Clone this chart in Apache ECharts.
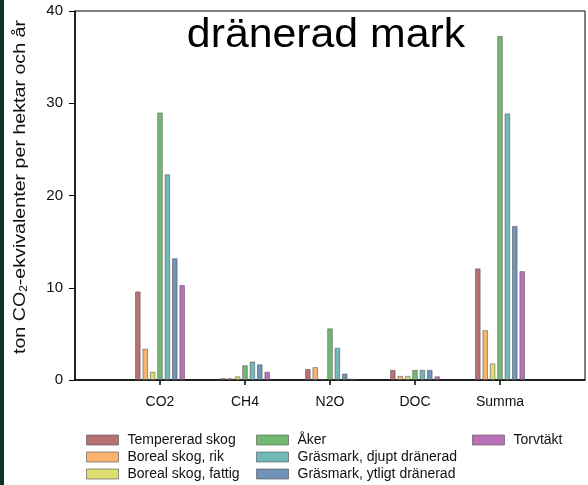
<!DOCTYPE html>
<html>
<head>
<meta charset="utf-8">
<script src="https://cdn.jsdelivr.net/npm/echarts@6/dist/echarts.min.js"></script>
<style>
  html, body { margin: 0; padding: 0; background: #ffffff; }
  #chart { width: 588px; height: 485px; }
</style>
</head>
<body>
<div id="chart"></div>
<script>
// Gas categories on the x axis
const categories = ['CO2', 'CH4', 'N2O', 'DOC', 'Summa'];

// Emissions per land-use class (ton CO2-ekv per hektar och år)
const tempereradSkog   = [9.6, 0.2, 1.2, 1.1, 12.1];
const borealRik        = [3.4, 0.2, 1.4, 0.45, 5.4];
const borealFattig     = [0.9, 0.4, 0.1, 0.45, 1.8];
const aker             = [29.0, 1.6, 5.6, 1.1, 37.3];
const grasmarkDjupt    = [22.3, 2.0, 3.5, 1.1, 28.9];
const grasmarkYtligt   = [13.2, 1.7, 0.7, 1.1, 16.7];
const torvtakt         = [10.3, 0.9, 0.15, 0.4, 11.8];

const yTicks = [0, 10, 20, 30, 40];

const seriesDefs = [
  { name: 'Tempererad skog', data: tempereradSkog, color: '#b87172' },
  { name: 'Boreal skog, rik', data: borealRik, color: '#fbb36f' },
  { name: 'Boreal skog, fattig', data: borealFattig, color: '#dcdc72' },
  { name: 'Åker', data: aker, color: '#71b971' },
  { name: 'Gräsmark, djupt dränerad', data: grasmarkDjupt, color: '#71b9b9' },
  { name: 'Gräsmark, ytligt dränerad', data: grasmarkYtligt, color: '#7193b9' },
  { name: 'Torvtäkt', data: torvtakt, color: '#b971b9' }
];

// Pad the category axis with an empty slot on each side
const axisCats = [''].concat(categories, ['']);
const pad = (arr) => ['-'].concat(arr, ['-']);

const FONT = '"Liberation Sans", Arial, sans-serif';

const chart = echarts.init(document.getElementById('chart'), null, { renderer: 'canvas' });

const legendBase = {
  orient: 'vertical',
  itemWidth: 32,
  itemHeight: 10,
  itemGap: 1,
  padding: 0,
  icon: 'rect',
  top: 432,
  height: 200,
  textStyle: { fontFamily: FONT, fontSize: 14, lineHeight: 16, color: '#111', padding: [0, 0, 0, 4] },
  itemStyle: { borderColor: 'rgba(80,80,80,0.6)', borderWidth: 1 }
};

chart.setOption({
  animation: false,
  backgroundColor: '#ffffff',
  textStyle: { fontFamily: FONT },
  grid: { left: 75, top: 11, right: 1, bottom: 105, show: true, borderColor: '#000', borderWidth: 1 },
  legend: [
    Object.assign({}, legendBase, { left: 86, data: seriesDefs.slice(0, 3).map(s => s.name) }),
    Object.assign({}, legendBase, { left: 256, data: seriesDefs.slice(3, 6).map(s => s.name) }),
    Object.assign({}, legendBase, { left: 472, data: seriesDefs.slice(6).map(s => s.name) })
  ],
  graphic: [
    { type: 'rect', left: 0, top: 0, shape: { width: 4, height: 485 }, style: { fill: '#0e3427' }, z: 10 },
    {
      type: 'text', x: 326, y: 36, scaleX: 1.07, z: 10,
      style: { text: 'dränerad mark', font: '40px "Liberation Sans", Arial, sans-serif', fill: '#000', align: 'center', verticalAlign: 'middle' }
    },
    {
      type: 'text', x: 20, y: 187, rotation: Math.PI / 2, scaleX: 1.19, z: 10,
      style: {
        text: 'ton CO{sub|2}-ekvivalenter per hektar och år',
        fontFamily: FONT, fontSize: 16.5, fill: '#111', align: 'center', verticalAlign: 'middle',
        rich: { sub: { fontFamily: FONT, fontSize: 10, fill: '#111', padding: [9, 0, 0, 0] } }
      }
    }
  ],
  xAxis: {
    type: 'category',
    data: axisCats,
    boundaryGap: false,
    axisLine: { lineStyle: { color: '#000', width: 1.5 } },
    axisTick: { show: true, inside: false, length: 5, interval: (i) => i > 0 && i < axisCats.length - 1, lineStyle: { color: '#000', width: 1.5 } },
    axisLabel: { fontFamily: FONT, fontSize: 14, color: '#111', margin: 15, interval: 0 },
    splitLine: { show: false }
  },
  yAxis: {
    type: 'value',
    min: yTicks[0],
    max: yTicks[yTicks.length - 1],
    interval: 10,
    axisLine: { show: true, lineStyle: { color: '#000', width: 1.5 } },
    axisTick: { show: true, inside: false, length: 6, lineStyle: { color: '#000' } },
    axisLabel: { fontFamily: FONT, fontSize: 15, color: '#111', margin: 12 },
    splitLine: { show: false }
  },
  series: seriesDefs.map(s => ({
    type: 'bar',
    name: s.name,
    data: pad(s.data),
    barWidth: 5.6,
    barGap: '32%',
    itemStyle: { color: s.color, borderColor: 'rgba(80,80,80,0.55)', borderWidth: 1 }
  }))
});
</script>
</body>
</html>
